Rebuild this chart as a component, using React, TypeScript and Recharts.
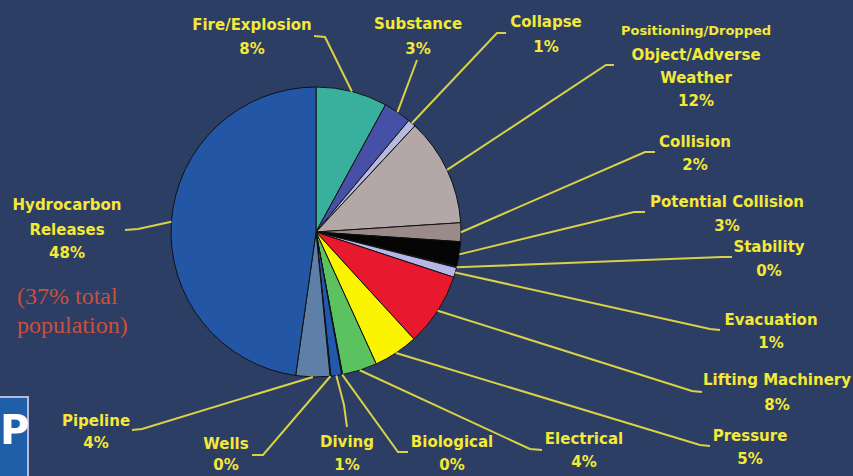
import { PieChart, Pie, Cell } from 'recharts'

// kategorie i udziały (kolejność od godz. 12, zgodnie z ruchem wskazówek)
const CATEGORIES = [
  'Fire/Explosion',
  'Substance',
  'Collapse',
  'Positioning/Dropped Object/Adverse Weather',
  'Collision',
  'Potential Collision',
  'Stability',
  'Evacuation',
  'Lifting Machinery',
  'Pressure',
  'Electrical',
  'Biological',
  'Diving',
  'Wells',
  'Pipeline',
  'Hydrocarbon Releases',
]
const SHARES = [8, 3.1, 0.9, 12.1, 2.1, 2.8, 0.1, 1.1, 8.2, 5, 3.9, 0.1, 1.2, 0.1, 3.8, 48]
const PCT_LABELS = ['8%', '3%', '1%', '12%', '2%', '3%', '0%', '1%', '8%', '5%', '4%', '0%', '1%', '0%', '4%', '48%']

const COLORS = [
  '#38b09d', '#4650a6', '#b6b9e2', '#b3a7a7', '#9a8b88', '#050505', '#d0d0ee', '#b6b6e8',
  '#e8192f', '#fbf400', '#5cc260', '#4a7a60', '#2258ae', '#3a6aa0', '#5d7fa8', '#2356a4',
]

const BG = '#2d3e64'
const YELLOW = '#f4e838'
const LINE = '#d9d146'

// rozmieszczenie etykiet: punkt załamania, koniec haczyka, środek tekstu, linie tekstu z liniami bazowymi
type Layout = {
  elbow: [number, number]
  end: [number, number]
  tx: number
  lines: { t: string; y: number; fs?: number }[]
}
const LAYOUT: Layout[] = [
  { elbow: [325, 37], end: [314, 36], tx: 252, lines: [{ t: 'Fire/Explosion', y: 30 }, { t: '8%', y: 54 }] },
  { elbow: [414, 68], end: [417, 60], tx: 418, lines: [{ t: 'Substance', y: 29 }, { t: '3%', y: 54 }] },
  { elbow: [497, 33], end: [506, 33], tx: 546, lines: [{ t: 'Collapse', y: 27 }, { t: '1%', y: 52 }] },
  {
    elbow: [606, 65], end: [614, 65], tx: 696,
    lines: [
      { t: 'Positioning/Dropped', y: 35, fs: 13 },
      { t: 'Object/Adverse', y: 60 },
      { t: 'Weather', y: 83 },
      { t: '12%', y: 106 },
    ],
  },
  { elbow: [645, 152], end: [655, 152], tx: 695, lines: [{ t: 'Collision', y: 147 }, { t: '2%', y: 170 }] },
  { elbow: [634, 212], end: [645, 212], tx: 727, lines: [{ t: 'Potential Collision', y: 207 }, { t: '3%', y: 231 }] },
  { elbow: [722, 257], end: [732, 257], tx: 769, lines: [{ t: 'Stability', y: 252 }, { t: '0%', y: 276 }] },
  { elbow: [710, 329], end: [720, 330], tx: 771, lines: [{ t: 'Evacuation', y: 325 }, { t: '1%', y: 348 }] },
  { elbow: [692, 391], end: [702, 392], tx: 777, lines: [{ t: 'Lifting Machinery', y: 385 }, { t: '8%', y: 410 }] },
  { elbow: [700, 445], end: [710, 446], tx: 750, lines: [{ t: 'Pressure', y: 441 }, { t: '5%', y: 464 }] },
  { elbow: [530, 449], end: [542, 450], tx: 584, lines: [{ t: 'Electrical', y: 444 }, { t: '4%', y: 467 }] },
  { elbow: [398, 452], end: [408, 452], tx: 452, lines: [{ t: 'Biological', y: 447 }, { t: '0%', y: 470 }] },
  { elbow: [344, 405], end: [347, 427], tx: 347, lines: [{ t: 'Diving', y: 447 }, { t: '1%', y: 470 }] },
  { elbow: [263, 455], end: [252, 455], tx: 226, lines: [{ t: 'Wells', y: 449 }, { t: '0%', y: 470 }] },
  { elbow: [142, 429], end: [132, 430], tx: 96, lines: [{ t: 'Pipeline', y: 426 }, { t: '4%', y: 448 }] },
  {
    elbow: [138, 229], end: [125, 230], tx: 67,
    lines: [{ t: 'Hydrocarbon', y: 210 }, { t: 'Releases', y: 235 }, { t: '48%', y: 258 }],
  },
]

const data = CATEGORIES.map((name, i) => ({ name, value: SHARES[i], pct: PCT_LABELS[i] }))

const RAD = Math.PI / 180

function renderLabel(props: any) {
  const { cx, cy, outerRadius, midAngle, index } = props
  const lay = LAYOUT[index]
  if (!lay) return null
  const sx = cx + outerRadius * Math.cos(-midAngle * RAD)
  const sy = cy + outerRadius * Math.sin(-midAngle * RAD)
  return (
    <g key={`lbl-${index}`}>
      <polyline
        points={`${sx},${sy} ${lay.elbow[0]},${lay.elbow[1]} ${lay.end[0]},${lay.end[1]}`}
        fill="none"
        stroke={LINE}
        strokeWidth={2}
      />
      {lay.lines.map((l, j) => (
        <text
          key={j}
          x={lay.tx}
          y={l.y}
          textAnchor="middle"
          fill={YELLOW}
          fontFamily="'DejaVu Sans', sans-serif"
          fontWeight="bold"
          fontSize={l.fs ?? 15}
        >
          {l.t}
        </text>
      ))}
    </g>
  )
}

export default function App() {
  return (
    <div style={{ position: 'relative', width: 853, height: 476, background: BG, overflow: 'hidden' }}>
      <style>{`body{margin:0;background:${BG}}`}</style>
      <PieChart width={853} height={476} margin={{ top: 0, right: 0, bottom: 0, left: 0 }}>
        <Pie
          data={data}
          dataKey="value"
          nameKey="name"
          cx={316}
          cy={232}
          outerRadius={145}
          startAngle={90}
          endAngle={-270}
          stroke="#111"
          strokeWidth={1}
          label={renderLabel}
          labelLine={false}
          isAnimationActive={false}
        >
          {data.map((d, i) => (
            <Cell key={d.name} fill={COLORS[i]} />
          ))}
        </Pie>
      </PieChart>
      <svg width={853} height={476} style={{ position: 'absolute', left: 0, top: 0, pointerEvents: 'none' }}>
        <text x={17} y={304} fill="#c9503d" fontFamily="'Liberation Serif', serif" fontSize={24}>
          (37% total
        </text>
        <text x={17} y={333} fill="#c9503d" fontFamily="'Liberation Serif', serif" fontSize={24}>
          population)
        </text>
        <rect x={-4} y={397} width={32} height={84} fill="#1f5ea8" stroke="#b8b8dc" strokeWidth={2} />
        <text x={0} y={444} fill="#ffffff" fontFamily="'DejaVu Sans', sans-serif" fontWeight="bold" fontSize={40}>
          P
        </text>
      </svg>
    </div>
  )
}
